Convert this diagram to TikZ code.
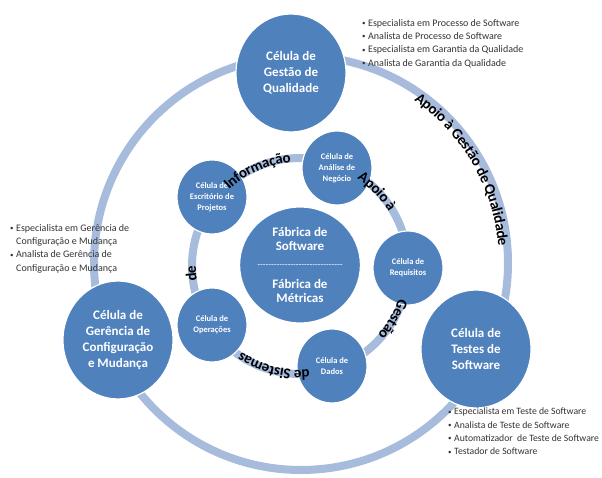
\documentclass[tikz,border=0pt]{standalone}
\usepackage{fontspec}
\setmainfont{Carlito}
\usetikzlibrary{decorations.text,shapes.geometric,calc}
\definecolor{cellblue}{RGB}{79,129,189}
\definecolor{ringblue}{RGB}{167,187,220}
\newcommand\curvfont{\fontsize{15}{15}\selectfont\bfseries}
\newcommand\bul{\makebox[6pt][l]{\fontsize{7}{7}\selectfont\raisebox{0.6pt}{•}}}
\newcommand\cont{\hspace*{6pt}}
\begin{document}
\begin{tikzpicture}[x=1pt,y=1pt,
  cell/.style={ellipse, fill=cellblue, draw=white, line width=1.2pt, text=white, align=center, inner sep=0pt},
  bigcell/.style={cell, minimum width=110pt, minimum height=118pt, font=\fontsize{13}{16}\selectfont\bfseries},
  midcell/.style={cell, minimum width=120pt, minimum height=116pt, font=\fontsize{13}{14}\selectfont\bfseries},
  smallcell/.style={cell, minimum width=70pt, minimum height=74pt, font=\fontsize{8.5}{11}\selectfont\bfseries},
  ringband/.style={draw=ringblue, line width=8pt},
  roles/.style={align=left, anchor=north west, font=\fontsize{10}{13.3}\selectfont, inner sep=0pt, text=black!80},
  curved/.style={decorate, decoration={text along path, text align=center, raise=#1}}
]
\useasboundingbox (0,0) rectangle (602,478);
\fill[white] (0,0) rectangle (602,478);

\coordinate (oc) at (301,215);
\coordinate (ic) at (300,212);

% rings
\draw[ringband] (oc) circle[radius=207];
\draw[ringband] (ic) circle[radius=108];

% outer cells
\node[bigcell] (gq) at (291,405) {Célula de\\Gestão de\\Qualidade};
\node[bigcell] (gc) at (118,138) {Célula de\\Gerência de\\Configuração\\e Mudança};
\node[bigcell] (ts) at (476,129) {Célula de\\Testes de\\Software};

% center
\node[midcell] (fab) at (300,213) {Fábrica de\\Software\\[3pt]{\fontsize{9}{9}\selectfont\mdseries -{}-{}-{}-{}-{}-{}-{}-{}-{}-{}-{}-{}-{}-{}-{}-{}-{}-{}-{}-{}-{}-{}-{}-{}-{}-{}-{}-{}-{}-{}-}\\[7pt]Fábrica de\\Métricas};

% inner cells
\node[smallcell] (an) at (337,310) {Célula de\\Análise de\\Negócio};
\node[smallcell] (ep) at (212,281) {Célula de\\Escritório de\\Projetos};
\node[smallcell] (rq) at (408,210) {Célula de\\Requisitos};
\node[smallcell] (op) at (212,153) {Célula de\\Operações};
\node[smallcell] (dd) at (332,112) {Célula de\\Dados};

% curved texts on inner ring
\path[curved=-4pt, decoration={text={|\curvfont|Informação}}]
  ($(ic)+(152:108)$) arc[start angle=152, end angle=76, radius=108];
\path[curved=-4pt, decoration={text={|\curvfont|Apoio à}}]
  ($(ic)+(78:108)$) arc[start angle=78, end angle=10, radius=108];
\path[curved=-4pt, decoration={text={|\curvfont|Gestão}}]
  ($(ic)+(2:108)$) arc[start angle=2, end angle=-62, radius=108];
\path[curved=-4pt, decoration={text={|\curvfont|de Sistemas}}]
  ($(ic)+(-62:108)$) arc[start angle=-62, end angle=-147, radius=108];
\path[curved=-4pt, decoration={text={|\curvfont|de}}]
  ($(ic)+(-156:108)$) arc[start angle=-156, end angle=-196, radius=108];

% curved text on outer ring
\path[curved=-9pt, decoration={text={|\curvfont|Apoio à Gestão de Qualidade}}]
  ($(oc)+(78:207)$) arc[start angle=78, end angle=-18, radius=207];

% role lists
\node[roles] (lgq) at (362,459) {\bul Especialista em Processo de Software\\
\bul Analista de Processo de Software\\
\bul Especialista em Garantia da Qualidade\\
\bul Analista de Garantia da Qualidade};
\node[roles] (lgc) at (10,254) {\bul Especialista em Gerência de\\
\cont Configuração e Mudança\\
\bul Analista de Gerência de\\
\cont Configuração e Mudança};
\node[roles, font=\fontsize{9.7}{13.3}\selectfont] (lts) at (448,70) {\bul Especialista em Teste de Software\\
\bul Analista de Teste de Software\\
\bul Automatizador\ \ de Teste de Software\\
\bul Testador de Software};
\end{tikzpicture}
\end{document}
